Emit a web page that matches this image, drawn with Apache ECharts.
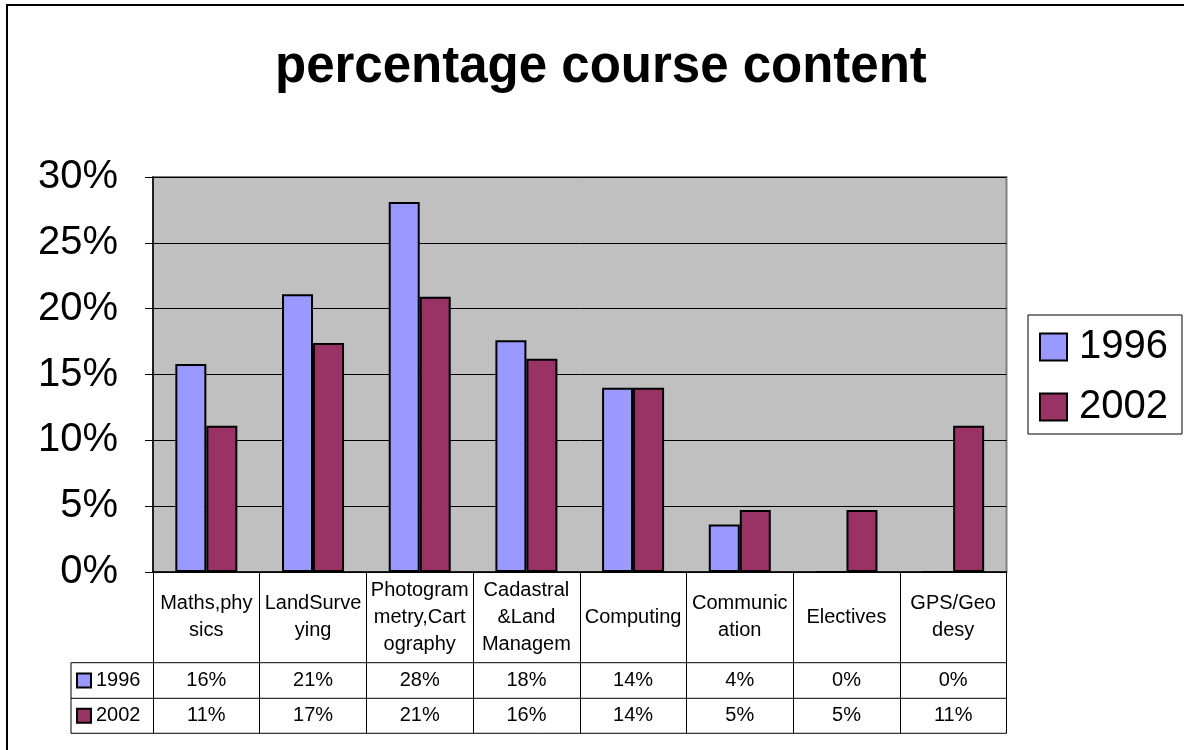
<!DOCTYPE html>
<html>
<head>
<meta charset="utf-8">
<title>percentage course content</title>
<script src="https://cdn.jsdelivr.net/npm/echarts@6/dist/echarts.min.js"></script>
<style>
  html, body { margin: 0; padding: 0; background: #fff; }
  #main { width: 1184px; height: 750px; }
</style>
</head>
<body>
<div id="main"></div>
<script>
// chart data
var categories = ['Maths,phy\nsics', 'LandSurve\nying', 'Photogram\nmetry,Cart\nography', 'Cadastral\n&Land\nManagem', 'Computing', 'Communic\nation', 'Electives', 'GPS/Geo\ndesy'];
var seriesNames = ['1996', '2002'];
var values1996 = [0.158, 0.211, 0.281, 0.176, 0.140, 0.036, 0, 0];
var values2002 = [0.111, 0.174, 0.209, 0.162, 0.140, 0.047, 0.047, 0.111];
var colors = ['#9999FF', '#993366'];

var FONT = 'Liberation Sans, Arial, sans-serif';

// layout of plot + data table
var plotLeft = 153, plotRight = 1006.5, plotTop = 177, plotBottom = 572;
var tableLeft = 71;
var rowLines = [662.7, 698.3, 733.3];

function pct(v) {
  return Math.round(v * 100) + '%';
}

var chart = echarts.init(document.getElementById('main'), null, { renderer: 'canvas' });

// one extra x axis per table row, the labels show the rounded values
function rowAxis(values, rowIdx) {
  var centre = (rowLines[rowIdx] + rowLines[rowIdx + 1]) / 2;
  return {
    type: 'category',
    data: categories,
    position: 'bottom',
    offset: 0,
    axisLine: { show: false },
    axisTick: { show: false },
    axisLabel: {
      interval: 0,
      margin: centre - plotBottom,
      verticalAlign: 'middle',
      fontSize: 20,
      fontFamily: FONT,
      color: '#000',
      formatter: function (v, i) { return pct(values[i]); }
    }
  };
}

// table lines and row headers
var graphics = [
  { type: 'rect', shape: { x: 7, y: 5, width: 1300, height: 900 }, style: { fill: 'none', stroke: '#000', lineWidth: 2 }, silent: true },
  { type: 'line', shape: { x1: tableLeft, y1: rowLines[0], x2: tableLeft, y2: rowLines[2] }, style: { stroke: '#000', lineWidth: 1 } }
];
rowLines.forEach(function (y) {
  graphics.push({ type: 'line', shape: { x1: tableLeft, y1: y, x2: plotRight, y2: y }, style: { stroke: '#000', lineWidth: 1 } });
});
seriesNames.forEach(function (name, i) {
  var cy = (rowLines[i] + rowLines[i + 1]) / 2;
  graphics.push({ type: 'rect', shape: { x: 77, y: cy - 7, width: 14, height: 14 }, style: { fill: colors[i], stroke: '#000', lineWidth: 2 } });
  graphics.push({ type: 'text', x: 96, y: cy, style: { text: name, fontSize: 20, fontFamily: FONT, fill: '#000', verticalAlign: 'middle' } });
});

var option = {
  backgroundColor: '#fff',
  animation: false,
  title: {
    text: 'percentage course content',
    left: 275,
    top: 42,
    padding: 0,
    textStyle: { fontSize: 51, fontWeight: 'bold', fontFamily: FONT, color: '#000' }
  },
  legend: {
    orient: 'vertical',
    left: 1028,
    top: 315,
    data: seriesNames,
    icon: 'rect',
    itemWidth: 27,
    itemHeight: 27,
    itemGap: 20,
    padding: [12, 14, 7, 11],
    borderColor: '#000',
    borderWidth: 1,
    backgroundColor: '#fff',
    itemStyle: { borderColor: '#000', borderWidth: 2 },
    textStyle: { fontSize: 40, lineHeight: 40, fontFamily: FONT, color: '#000', padding: [0, 0, 0, 7] }
  },
  grid: {
    left: plotLeft,
    right: 1184 - plotRight,
    top: plotTop,
    bottom: 750 - plotBottom,
    show: true,
    backgroundColor: '#C0C0C0',
    borderColor: '#808080',
    borderWidth: 2
  },
  xAxis: [
    {
      type: 'category',
      data: categories,
      position: 'bottom',
      axisLine: { show: true, lineStyle: { color: '#000', width: 1.5 } },
      axisTick: { show: true, inside: false, length: rowLines[2] - plotBottom, lineStyle: { color: '#000', width: 1 } },
      axisLabel: {
        interval: 0,
        margin: 45,
        verticalAlign: 'middle',
        fontSize: 20,
        lineHeight: 27,
        fontFamily: FONT,
        color: '#000'
      }
    },
    rowAxis(values1996, 0),
    rowAxis(values2002, 1)
  ],
  yAxis: {
    type: 'value',
    min: 0,
    max: 0.3,
    interval: 0.05,
    axisLine: { show: true, lineStyle: { color: '#000', width: 1.5 } },
    axisTick: { show: true, length: 8, lineStyle: { color: '#000' } },
    splitLine: { show: true, lineStyle: { color: '#000', width: 1 } },
    axisLabel: {
      margin: 35,
      fontSize: 40,
      fontFamily: FONT,
      color: '#000',
      formatter: pct
    }
  },
  series: [
    {
      name: seriesNames[0],
      type: 'bar',
      data: values1996,
      barWidth: 31,
      barGap: '0%',
      itemStyle: { color: colors[0], borderColor: '#000', borderWidth: 2 }
    },
    {
      name: seriesNames[1],
      type: 'bar',
      data: values2002,
      barWidth: 31,
      barGap: '0%',
      itemStyle: { color: colors[1], borderColor: '#000', borderWidth: 2 }
    }
  ],
  graphic: graphics
};

chart.setOption(option);
</script>
</body>
</html>
